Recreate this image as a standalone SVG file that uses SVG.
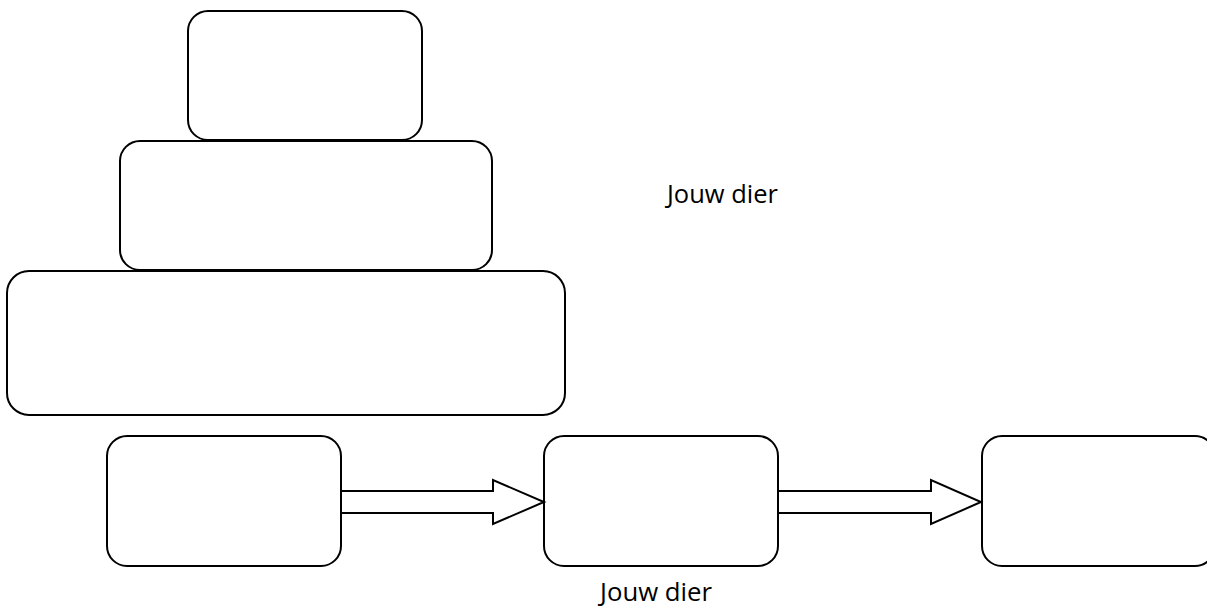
<svg xmlns="http://www.w3.org/2000/svg" width="1207" height="608" viewBox="0 0 1207 608">
<style>
.box{fill:#fff;stroke:#000;stroke-width:2}
.arrow{fill:#fff;stroke:#000;stroke-width:2;stroke-linejoin:miter}
.lbl{font-family:"Open Sans","Liberation Sans",sans-serif;font-size:25px;fill:#000}
</style>
<rect width="1207" height="608" fill="#fff"/>
<g id="box-top"><rect class="box" x="188" y="11" width="234" height="129" rx="20"/></g>
<g id="box-middle"><rect class="box" x="120" y="141" width="372" height="129" rx="20"/></g>
<g id="box-bottom"><rect class="box" x="7" y="271" width="558" height="144" rx="22"/></g>
<g id="box-row1"><rect class="box" x="107" y="436" width="234" height="130" rx="20"/></g>
<g id="box-row2"><rect class="box" x="544" y="436" width="234" height="130" rx="20"/></g>
<g id="box-row3"><rect class="box" x="982" y="436" width="233" height="130" rx="20"/></g>
<g id="connectors">
<polygon class="arrow" points="341,491 493,491 493,480 544,502 493,524 493,513 341,513"/>
<polygon class="arrow" points="778,491 931,491 931,480 981,502 931,524 931,513 778,513"/>
</g>
<g id="labels">
<text class="lbl" x="667" y="203" textLength="111" lengthAdjust="spacingAndGlyphs">Jouw dier</text>
<text class="lbl" x="600" y="601" textLength="112" lengthAdjust="spacingAndGlyphs">Jouw dier</text>
</g>
</svg>
